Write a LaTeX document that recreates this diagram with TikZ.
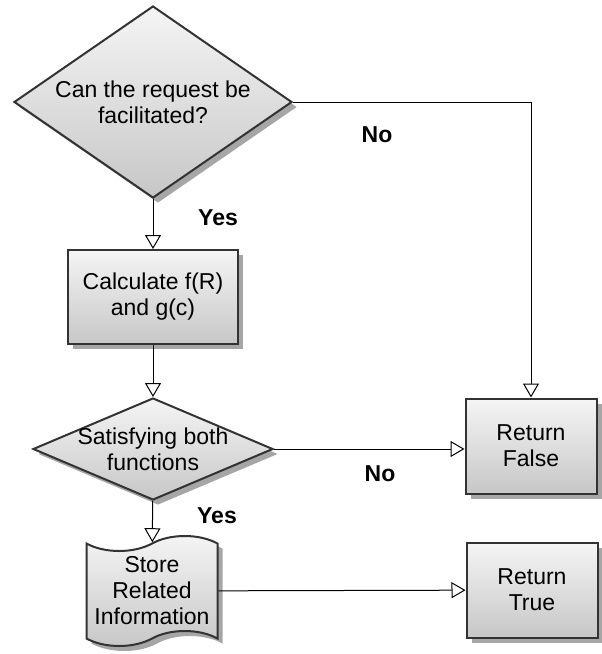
\documentclass[tikz,border=0pt]{standalone}
\usepackage{fontspec}
\setmainfont{Liberation Sans}
\usetikzlibrary{arrows.meta,shapes.geometric,shapes.symbols,shadows}

\tikzset{
  blk/.style={draw=black!80, line width=2pt, top color=black!4, bottom color=black!22,
    drop shadow={shadow xshift=5pt, shadow yshift=-5pt, fill=black!35, opacity=1},
    font=\fontsize{23}{26}\selectfont, align=center, inner sep=0pt},
  box/.style={blk, rectangle},
  dec/.style={blk, diamond},
  doc/.style={blk, tape, tape bend height=15pt},
  txt/.style={font=\fontsize{23}{26}\selectfont, align=center},
  lbl/.style={font=\bfseries\fontsize{23}{26}\selectfont},
  flow/.style={-{Triangle[open,length=14pt,width=16pt]}, line width=1pt},
}

\begin{document}
\begin{tikzpicture}[x=1pt,y=-1pt]
%picture
\useasboundingbox (0,0) rectangle (602,654);
\node[dec, minimum width=278pt, minimum height=192pt,
  label={[txt]center:Can the request be\\facilitated?}] (req) at (153,102) {};
\node[box, minimum width=170pt, minimum height=94pt] (calc) at (153,297) {Calculate f(R)\\and g(c)};
\node[dec, minimum width=240pt, minimum height=102pt,
  label={[txt]center:Satisfying both\\functions}] (sat) at (153,449) {};
\node[doc, minimum width=131pt, minimum height=110pt] (store) at (152,591) {Store\\Related\\Information};
\node[box, minimum width=131pt, minimum height=95pt] (false) at (531,446) {Return\\False};
\node[box, minimum width=131pt, minimum height=95pt] (true) at (532,590) {Return\\True};

\draw[flow] (req) -- (calc);
\draw[flow] (calc) -- (sat);
\draw[flow] (sat) -- (store);
\draw[flow] (req.east) -| (false.north);
\draw[flow] (sat.east) -- (sat.east -| false.west);
\draw[flow] (store) -- (true);

\node[lbl] (yes1) at (218,218) {Yes};
\node[lbl] (no1) at (377,135) {No};
\node[lbl] (no2) at (380,474) {No};
\node[lbl] (yes2) at (217,516) {Yes};
\end{tikzpicture}
\end{document}
